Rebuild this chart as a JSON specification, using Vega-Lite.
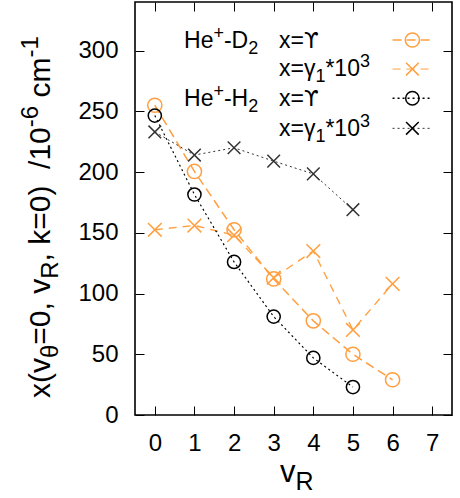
{
  "$schema": "https://vega.github.io/schema/vega-lite/v6.json",
  "autosize": {"type": "none"},
  "padding": {"left": 135, "top": 2, "right": 8, "bottom": 83},
  "width": 317,
  "height": 413,
  "background": "white",
  "config": {
    "view": {"stroke": "black", "strokeWidth": 1.6},
    "font": "Liberation Sans",
    "text": {"font": "Liberation Sans", "color": "black", "align": "left", "baseline": "alphabetic"}
  },
  "datasets": {
    "curves": [
      {"ser": "D2_Y", "vR": 0, "val": 255},
      {"ser": "D2_Y", "vR": 1, "val": 200.5},
      {"ser": "D2_Y", "vR": 2, "val": 152.5},
      {"ser": "D2_Y", "vR": 3, "val": 112},
      {"ser": "D2_Y", "vR": 4, "val": 77.5},
      {"ser": "D2_Y", "vR": 5, "val": 50},
      {"ser": "D2_Y", "vR": 6, "val": 29},
      {"ser": "D2_g", "vR": 0, "val": 152.5},
      {"ser": "D2_g", "vR": 1, "val": 156},
      {"ser": "D2_g", "vR": 2, "val": 148},
      {"ser": "D2_g", "vR": 3, "val": 113},
      {"ser": "D2_g", "vR": 4, "val": 135},
      {"ser": "D2_g", "vR": 5, "val": 70},
      {"ser": "D2_g", "vR": 6, "val": 108},
      {"ser": "H2_Y", "vR": 0, "val": 246.5},
      {"ser": "H2_Y", "vR": 1, "val": 181.5},
      {"ser": "H2_Y", "vR": 2, "val": 126},
      {"ser": "H2_Y", "vR": 3, "val": 81},
      {"ser": "H2_Y", "vR": 4, "val": 47},
      {"ser": "H2_Y", "vR": 5, "val": 23},
      {"ser": "H2_g", "vR": 0, "val": 233},
      {"ser": "H2_g", "vR": 1, "val": 214},
      {"ser": "H2_g", "vR": 2, "val": 220},
      {"ser": "H2_g", "vR": 3, "val": 209},
      {"ser": "H2_g", "vR": 4, "val": 198.5},
      {"ser": "H2_g", "vR": 5, "val": 169}
    ],
    "one": [{}]
  },
  "layer": [
    {
      "data": {"name": "curves"},
      "mark": {"type": "line"},
      "encoding": {
        "x": {
          "field": "vR", "type": "quantitative",
          "scale": {"domain": [-0.5, 7.5], "nice": false, "zero": false},
          "axis": {
            "title": null, "values": [0, 1, 2, 3, 4, 5, 6, 7], "format": "d",
            "labelFont": "Liberation Sans", "labelFontSize": 24, "labelColor": "black",
            "labelPadding": 16, "labelFlush": false,
            "ticks": false, "domain": false,
            "grid": true, "gridColor": "black", "gridOpacity": 1, "gridWidth": 1,
            "gridDash": [9, 395, 9, 1000]
          }
        },
        "y": {
          "field": "val", "type": "quantitative",
          "scale": {"domain": [0, 340], "nice": false, "zero": false},
          "axis": {
            "title": null, "values": [0, 50, 100, 150, 200, 250, 300], "format": "d",
            "labelFont": "Liberation Sans", "labelFontSize": 24, "labelColor": "black",
            "labelPadding": 17, "labelFlush": false,
            "ticks": false, "domain": false,
            "grid": true, "gridColor": "black", "gridOpacity": 1, "gridWidth": 1,
            "gridDash": [9, 299, 9, 1000]
          }
        },
        "detail": {"field": "ser"},
        "color": {"field": "ser", "type": "nominal", "legend": null,
          "scale": {"domain": ["D2_Y", "D2_g", "H2_Y", "H2_g"], "range": ["#ff9f40", "#ff9f40", "#000000", "#333333"]}},
        "strokeDash": {"field": "ser", "type": "nominal", "legend": null,
          "scale": {"domain": ["D2_Y", "D2_g", "H2_Y", "H2_g"], "range": [[9, 5], [8, 6], [2, 3], [2, 3]]}},
        "strokeWidth": {"field": "ser", "type": "nominal", "legend": null,
          "scale": {"domain": ["D2_Y", "D2_g", "H2_Y", "H2_g"], "range": [1.5, 1, 1.5, 1]}}
      }
    },
    {
      "data": {"name": "curves"},
      "mark": {"type": "point", "filled": false, "strokeWidth": 1.5, "opacity": 1},
      "encoding": {
        "x": {"field": "vR", "type": "quantitative"},
        "y": {"field": "val", "type": "quantitative"},
        "color": {"field": "ser", "type": "nominal", "legend": null},
        "shape": {"field": "ser", "type": "nominal", "legend": null,
          "scale": {"domain": ["D2_Y", "D2_g", "H2_Y", "H2_g"], "range": ["circle", "M-1,-1L1,1M-1,1L1,-1", "circle", "M-1,-1L1,1M-1,1L1,-1"]}},
        "size": {"field": "ser", "type": "nominal", "legend": null,
          "scale": {"domain": ["D2_Y", "D2_g", "H2_Y", "H2_g"], "range": [201, 160, 180, 160]}}
      }
    },

    {"data": {"name": "one"}, "mark": {"type": "text", "text": "x(v", "fontSize": 30, "angle": 270, "dx": 0},
      "encoding": {"x": {"datum": -2.645}, "y": {"datum": 14}}},
    {"data": {"name": "one"}, "mark": {"type": "text", "text": "θ", "fontSize": 24, "angle": 270, "dx": 40.0, "dy": 7.5},
      "encoding": {"x": {"datum": -2.645}, "y": {"datum": 14}}},
    {"data": {"name": "one"}, "mark": {"type": "text", "text": "=0, v", "fontSize": 30, "angle": 270, "dx": 53.3},
      "encoding": {"x": {"datum": -2.645}, "y": {"datum": 14}}},
    {"data": {"name": "one"}, "mark": {"type": "text", "text": "R", "fontSize": 24, "angle": 270, "dx": 119.2, "dy": 7.5},
      "encoding": {"x": {"datum": -2.645}, "y": {"datum": 14}}},
    {"data": {"name": "one"}, "mark": {"type": "text", "text": ", k=0)\u00a0 /10", "fontSize": 30, "angle": 270, "dx": 136.5},
      "encoding": {"x": {"datum": -2.645}, "y": {"datum": 14}}},
    {"data": {"name": "one"}, "mark": {"type": "text", "text": "-6", "fontSize": 24, "angle": 270, "dx": 270.8, "dy": -12},
      "encoding": {"x": {"datum": -2.645}, "y": {"datum": 14}}},
    {"data": {"name": "one"}, "mark": {"type": "text", "text": "cm", "fontSize": 30, "angle": 270, "dx": 300.4},
      "encoding": {"x": {"datum": -2.645}, "y": {"datum": 14}}},
    {"data": {"name": "one"}, "mark": {"type": "text", "text": "-1", "fontSize": 24, "angle": 270, "dx": 340.4, "dy": -12},
      "encoding": {"x": {"datum": -2.645}, "y": {"datum": 14}}},

    {"data": {"name": "one"}, "mark": {"type": "text", "text": "v", "fontSize": 31},
      "encoding": {"x": {"datum": 3.16}, "y": {"datum": -55.2}}},
    {"data": {"name": "one"}, "mark": {"type": "text", "text": "R", "fontSize": 25, "dx": 15.5, "dy": 7.5},
      "encoding": {"x": {"datum": 3.16}, "y": {"datum": -55.2}}},

    {"data": {"name": "one"}, "mark": {"type": "text", "text": "He", "fontSize": 23},
      "encoding": {"x": {"datum": 0.737}, "y": {"datum": 302.3}}},
    {"data": {"name": "one"}, "mark": {"type": "text", "text": "+", "fontSize": 18, "dx": 29.4, "dy": -9},
      "encoding": {"x": {"datum": 0.737}, "y": {"datum": 302.3}}},
    {"data": {"name": "one"}, "mark": {"type": "text", "text": "-D", "fontSize": 23, "dx": 39.9},
      "encoding": {"x": {"datum": 0.737}, "y": {"datum": 302.3}}},
    {"data": {"name": "one"}, "mark": {"type": "text", "text": "2", "fontSize": 18, "dx": 64.2, "dy": 6},
      "encoding": {"x": {"datum": 0.737}, "y": {"datum": 302.3}}},
    {"data": {"name": "one"}, "mark": {"type": "text", "text": "x=", "fontSize": 23},
      "encoding": {"x": {"datum": 3.134}, "y": {"datum": 302.3}}},
    {"data": {"name": "one"}, "mark": {"type": "text", "text": "ϒ", "font": "DejaVu Sans", "fontSize": 21, "dx": 25},
      "encoding": {"x": {"datum": 3.134}, "y": {"datum": 302.3}}},

    {"data": {"name": "one"}, "mark": {"type": "text", "text": "x=γ", "fontSize": 23},
      "encoding": {"x": {"datum": 3.134}, "y": {"datum": 278.7}}},
    {"data": {"name": "one"}, "mark": {"type": "text", "text": "1", "fontSize": 18, "dx": 36.4, "dy": 6},
      "encoding": {"x": {"datum": 3.134}, "y": {"datum": 278.7}}},
    {"data": {"name": "one"}, "mark": {"type": "text", "text": "*10", "fontSize": 23, "dx": 46.4},
      "encoding": {"x": {"datum": 3.134}, "y": {"datum": 278.7}}},
    {"data": {"name": "one"}, "mark": {"type": "text", "text": "3", "fontSize": 18, "dx": 80.9, "dy": -9},
      "encoding": {"x": {"datum": 3.134}, "y": {"datum": 278.7}}},

    {"data": {"name": "one"}, "mark": {"type": "text", "text": "He", "fontSize": 23},
      "encoding": {"x": {"datum": 0.737}, "y": {"datum": 254.5}}},
    {"data": {"name": "one"}, "mark": {"type": "text", "text": "+", "fontSize": 18, "dx": 29.4, "dy": -9},
      "encoding": {"x": {"datum": 0.737}, "y": {"datum": 254.5}}},
    {"data": {"name": "one"}, "mark": {"type": "text", "text": "-H", "fontSize": 23, "dx": 39.9},
      "encoding": {"x": {"datum": 0.737}, "y": {"datum": 254.5}}},
    {"data": {"name": "one"}, "mark": {"type": "text", "text": "2", "fontSize": 18, "dx": 64.2, "dy": 6},
      "encoding": {"x": {"datum": 0.737}, "y": {"datum": 254.5}}},
    {"data": {"name": "one"}, "mark": {"type": "text", "text": "x=", "fontSize": 23},
      "encoding": {"x": {"datum": 3.134}, "y": {"datum": 254.5}}},
    {"data": {"name": "one"}, "mark": {"type": "text", "text": "ϒ", "font": "DejaVu Sans", "fontSize": 21, "dx": 25},
      "encoding": {"x": {"datum": 3.134}, "y": {"datum": 254.5}}},

    {"data": {"name": "one"}, "mark": {"type": "text", "text": "x=γ", "fontSize": 23},
      "encoding": {"x": {"datum": 3.134}, "y": {"datum": 229.9}}},
    {"data": {"name": "one"}, "mark": {"type": "text", "text": "1", "fontSize": 18, "dx": 36.4, "dy": 6},
      "encoding": {"x": {"datum": 3.134}, "y": {"datum": 229.9}}},
    {"data": {"name": "one"}, "mark": {"type": "text", "text": "*10", "fontSize": 23, "dx": 46.4},
      "encoding": {"x": {"datum": 3.134}, "y": {"datum": 229.9}}},
    {"data": {"name": "one"}, "mark": {"type": "text", "text": "3", "fontSize": 18, "dx": 80.9, "dy": -9},
      "encoding": {"x": {"datum": 3.134}, "y": {"datum": 229.9}}},

    {"data": {"name": "one"}, "mark": {"type": "rule", "color": "#ff9f40", "strokeDash": [9, 5], "strokeWidth": 1.5},
      "encoding": {"x": {"datum": 6.0}, "x2": {"datum": 7.0}, "y": {"datum": 308.7}}},
    {"data": {"name": "one"}, "mark": {"type": "point", "shape": "circle", "filled": false, "size": 201, "color": "#ff9f40", "strokeWidth": 1.5, "opacity": 1},
      "encoding": {"x": {"datum": 6.5}, "y": {"datum": 308.7}}},
    {"data": {"name": "one"}, "mark": {"type": "rule", "color": "#ff9f40", "strokeDash": [8, 6], "strokeWidth": 1},
      "encoding": {"x": {"datum": 6.0}, "x2": {"datum": 7.0}, "y": {"datum": 284.8}}},
    {"data": {"name": "one"}, "mark": {"type": "point", "shape": "M-1,-1L1,1M-1,1L1,-1", "filled": false, "size": 160, "color": "#ff9f40", "strokeWidth": 1.5, "opacity": 1},
      "encoding": {"x": {"datum": 6.5}, "y": {"datum": 284.8}}},
    {"data": {"name": "one"}, "mark": {"type": "rule", "color": "#000000", "strokeDash": [2, 3], "strokeWidth": 1.5},
      "encoding": {"x": {"datum": 6.0}, "x2": {"datum": 7.0}, "y": {"datum": 260.7}}},
    {"data": {"name": "one"}, "mark": {"type": "point", "shape": "circle", "filled": false, "size": 180, "color": "#000000", "strokeWidth": 1.5, "opacity": 1},
      "encoding": {"x": {"datum": 6.5}, "y": {"datum": 260.7}}},
    {"data": {"name": "one"}, "mark": {"type": "rule", "color": "#333333", "strokeDash": [2, 3], "strokeWidth": 1},
      "encoding": {"x": {"datum": 6.0}, "x2": {"datum": 7.0}, "y": {"datum": 236.0}}},
    {"data": {"name": "one"}, "mark": {"type": "point", "shape": "M-1,-1L1,1M-1,1L1,-1", "filled": false, "size": 160, "color": "#000000", "strokeWidth": 1.5, "opacity": 1},
      "encoding": {"x": {"datum": 6.5}, "y": {"datum": 236.0}}}
  ]
}
